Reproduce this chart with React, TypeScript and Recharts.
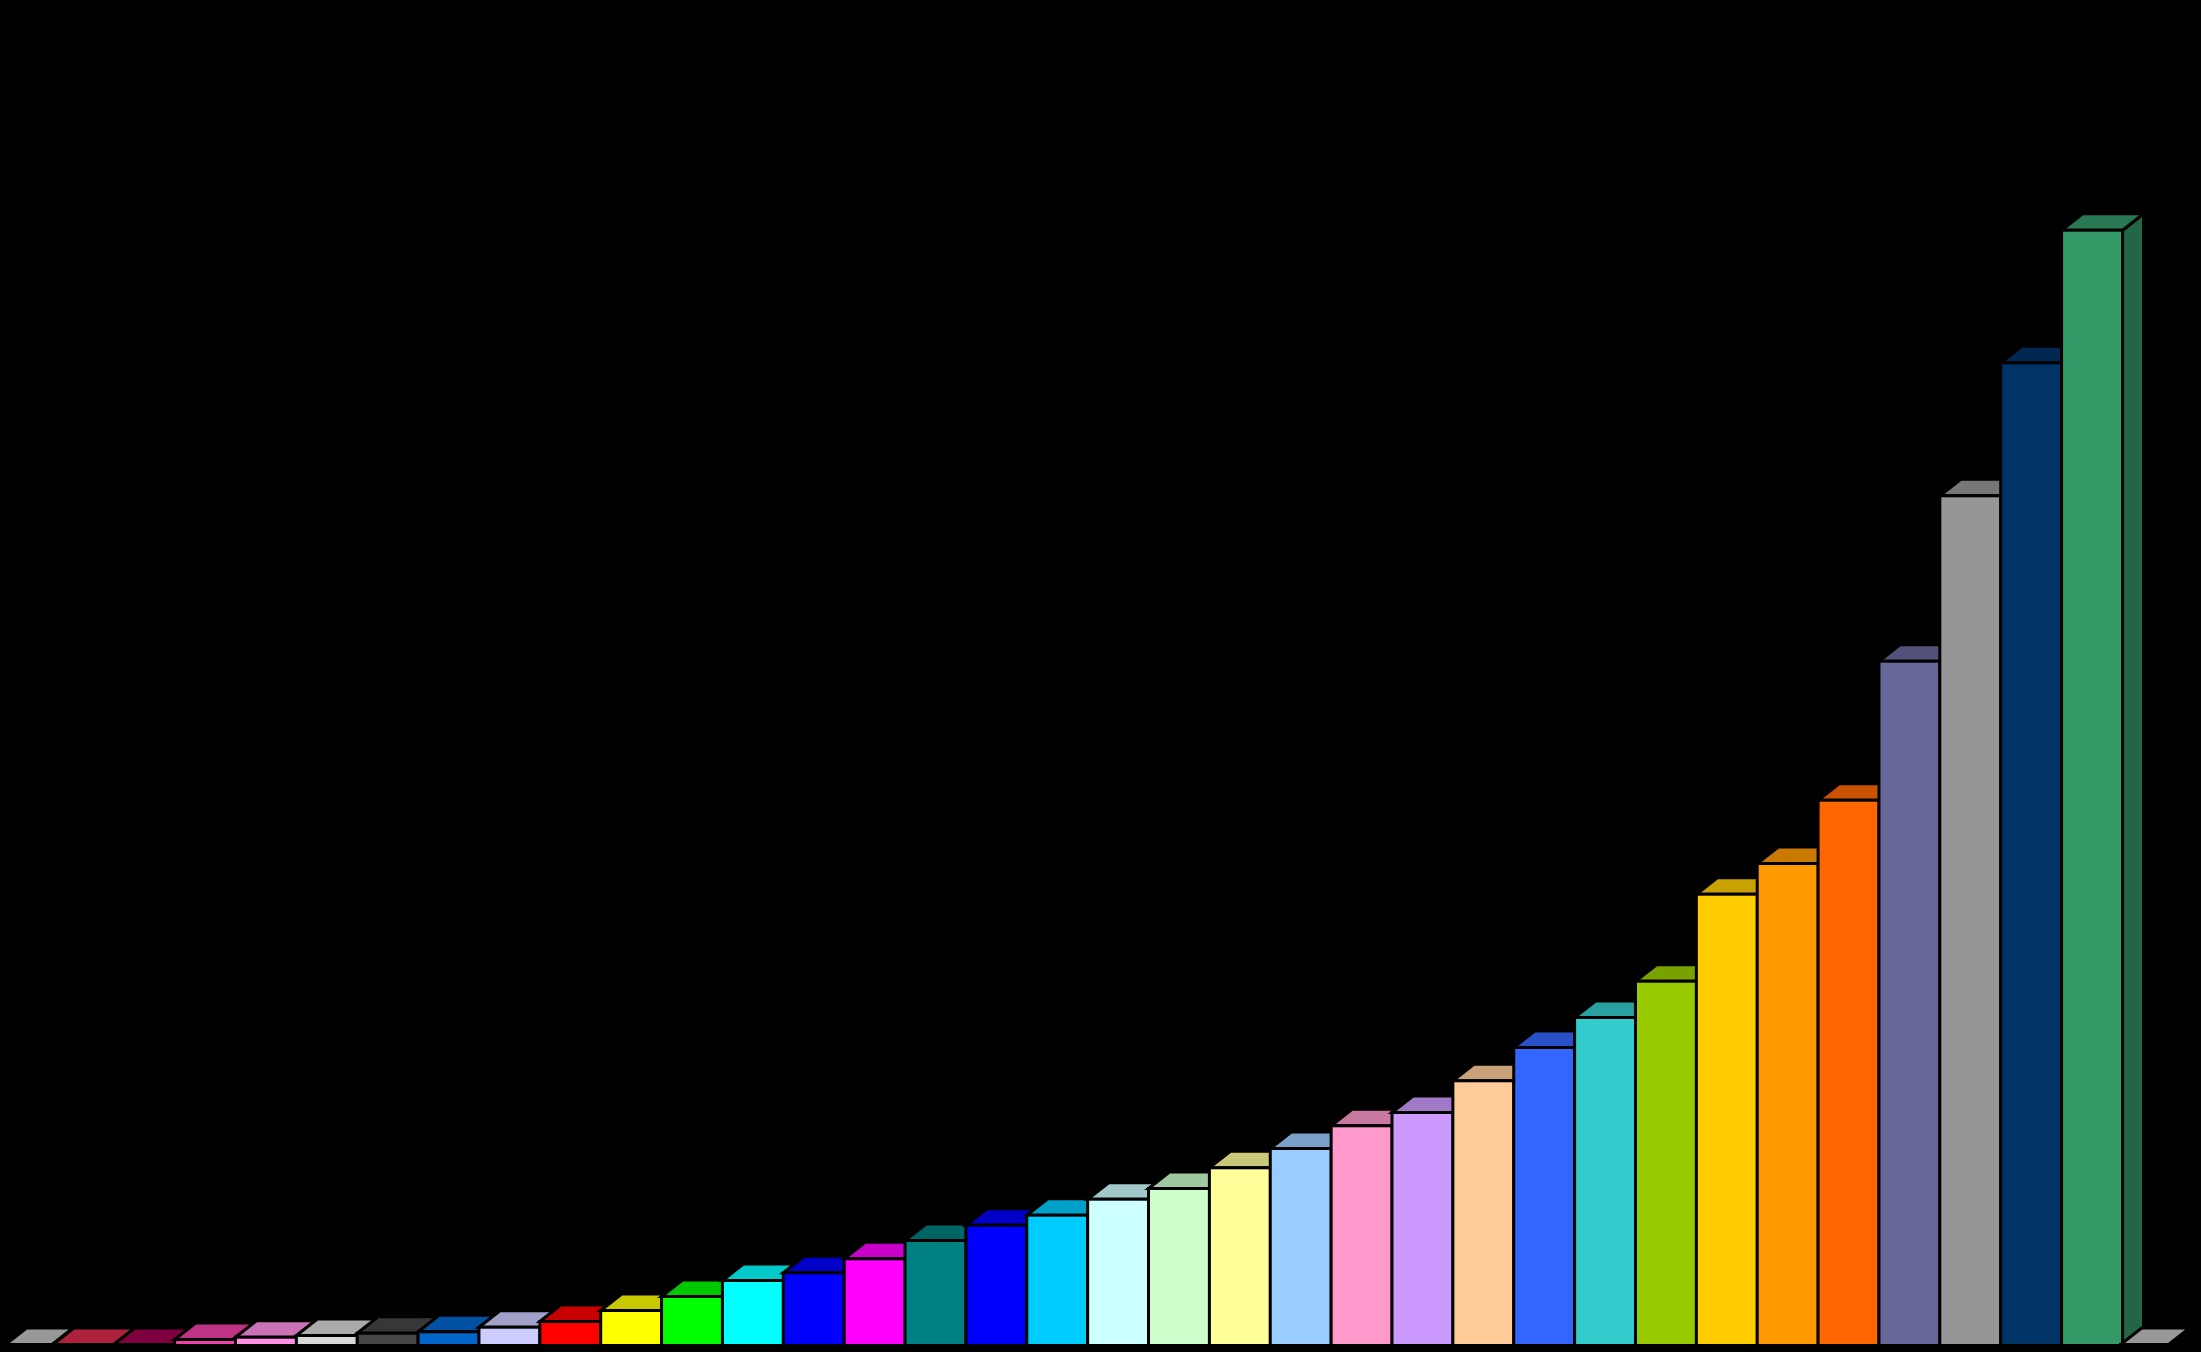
import { BarChart, Bar, XAxis, YAxis } from 'recharts';

const categories = [
  '1', '2', '3', '4', '5', '6', '7', '8', '9', '10', '11', '12',
  '13', '14', '15', '16', '17', '18', '19', '20', '21', '22', '23', '24',
  '25', '26', '27', '28', '29', '30', '31', '32', '33', '34', '35', '36',
];

const values = [
  1, 1, 1, 6, 8.3, 10, 12.3, 13.7, 18.3, 24, 35, 49,
  65, 72.7, 86.7, 105, 120.3, 130.3, 146.3, 157, 177.7, 197, 219.7, 233,
  264.7, 298, 328, 364.3, 451.3, 482, 545.3, 684.3, 849.7, 982.7, 1115.3, 1,
];

const barColors = [
  '#C0C0C0', '#DC2A4C', '#A00050', '#F040A8', '#FF90E6', '#D8D8D8', '#464646', '#0066CC', '#CCCCFF', '#FF0000', '#FFFF00', '#00FF00',
  '#00FFFF', '#0000FF', '#FF00FF', '#008080', '#0000FF', '#00CCFF', '#CCFFFF', '#CCFFCC', '#FFFF99', '#99CCFF', '#FF99CC', '#CC99FF',
  '#FFCC99', '#3366FF', '#33CCCC', '#99CC00', '#FFCC00', '#FF9900', '#FF6600', '#666699', '#969696', '#003366', '#339966', '#C0C0C0',
];

const chartData = categories.map((name, i) => ({ name, value: values[i] }));

const DEPTH_X = 21;
const DEPTH_Y = 16.5;

// the two empty end slabs are narrower than their band
const slabInsets: Record<number, [number, number]> = {
  0: [13.5, 0.9],
  35: [-1.8, 14.8],
};

function shade(hex: string, k: number) {
  const n = parseInt(hex.slice(1), 16);
  const r = Math.round(((n >> 16) & 255) * k);
  const g = Math.round(((n >> 8) & 255) * k);
  const b = Math.round((n & 255) * k);
  return `rgb(${r},${g},${b})`;
}

function Box3D(props: any) {
  const { x, y, width, height, index } = props;
  const inset = slabInsets[index] || [0, 0];
  const left = x + inset[0];
  const right = x + width - inset[1];
  const bottom = y + height;
  const color = barColors[index];
  return (
    <g stroke="#000" strokeWidth={3} strokeLinejoin="miter">
      <polygon
        fill={shade(color, 0.667)}
        points={`${right},${y} ${right + DEPTH_X},${y - DEPTH_Y} ${right + DEPTH_X},${bottom - DEPTH_Y} ${right},${bottom}`}
      />
      <polygon
        fill={shade(color, 0.79)}
        points={`${left},${y} ${left + DEPTH_X},${y - DEPTH_Y} ${right + DEPTH_X},${y - DEPTH_Y} ${right},${y}`}
      />
      <rect x={left} y={y} width={right - left} height={height} fill={color} />
    </g>
  );
}

export default function App() {
  return (
    <div style={{ position: 'fixed', left: 0, top: 0, width: 2201, height: 1352, background: '#000', overflow: 'hidden' }}>
      <BarChart
        width={2201}
        height={1352}
        data={chartData}
        barCategoryGap={0}
        margin={{ top: 145.5, right: 17.7, bottom: 6.5, left: -8 }}
      >
        <XAxis dataKey="name" hide />
        <YAxis hide domain={[0, 1200]} />
        <Bar dataKey="value" isAnimationActive={false} shape={<Box3D />} />
      </BarChart>
    </div>
  );
}
